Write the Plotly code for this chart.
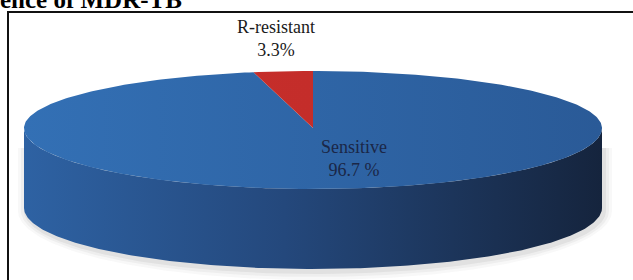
import numpy as np
import plotly.graph_objects as go

# ---- data ----
labels = ["Sensitive", "R-resistant"]
values = [96.7, 3.3]
value_text = ["96.7 %", "3.3%"]
title_text = "ence of MDR-TB"

# ---- style ----
top_scales = [
    [[0, "#3370b5"], [1, "#2a5a97"]],
    [[0, "#c8302c"], [1, "#c02a28"]],
]
side_scale = [[0, "#2e62a3"], [0.45, "#24487c"], [1, "#15243d"]]
label_pos = [(354, 158), (276, 38)]
label_colors = ["#1b2747", "#1a1a1a"]
FONT = "Liberation Serif"

cx, cy, rx, ry_top, ry_bot, depth = 313, 128, 289, 57, 61, 80


def ell(phi, dy=0.0, grow=0.0):
    c = np.cos(phi)
    s = np.sin(phi)
    ry = np.where(c >= 0, ry_top, ry_bot) + grow
    return cx + (rx + grow) * s, cy - ry * c + dy


fig = go.Figure()

# soft shadow under the disc
front = np.linspace(np.pi / 2, 3 * np.pi / 2, 240)
for k, a in [(8, 0.035), (5, 0.05), (2, 0.07)]:
    x, y = ell(front, dy=depth + 3, grow=k)
    x = np.concatenate([x + 2, [cx - rx - k + 2, cx + rx + k + 2]])
    y = np.concatenate([y, [cy + 20, cy + 20]])
    fig.add_trace(go.Scatter(x=x, y=y, fill="toself", mode="lines",
                             line=dict(width=0, color="rgba(0,0,0,0)"),
                             fillcolor=f"rgba(60,60,60,{a})", hoverinfo="skip"))

# side wall (front half)
xt, yt = ell(front)
xb, yb = ell(front[::-1], dy=depth)
fig.add_trace(go.Scatter(
    x=np.concatenate([xt, xb]), y=np.concatenate([yt, yb]),
    fill="toself", mode="lines", line=dict(width=0, color="rgba(0,0,0,0)"),
    fillgradient=dict(type="horizontal", start=cx - rx, stop=cx + rx,
                      colorscale=side_scale),
    hoverinfo="skip"))

# top face slices computed from the values
total = float(sum(values))
start = 0.0
for i, v in enumerate(values):
    a0 = 2 * np.pi * start / total
    a1 = 2 * np.pi * (start + v) / total
    phi = np.linspace(a0, a1, max(8, int(400 * v / total)))
    x, y = ell(phi)
    x = np.concatenate([[cx], x, [cx]])
    y = np.concatenate([[cy], y, [cy]])
    fig.add_trace(go.Scatter(
        x=x, y=y, fill="toself", mode="lines",
        line=dict(width=0, color="rgba(0,0,0,0)"),
        fillgradient=dict(type="horizontal", start=cx - rx, stop=cx + rx,
                          colorscale=top_scales[i]),
        hoverinfo="skip"))
    start += v

# data labels
for i in range(len(labels)):
    fig.add_annotation(x=label_pos[i][0], y=label_pos[i][1],
                       text=f"{labels[i]}<br>{value_text[i]}",
                       showarrow=False, xanchor="center", yanchor="middle",
                       font=dict(family=FONT, size=18, color=label_colors[i]))

# cut-off title (as in the reference)
fig.add_annotation(xref="paper", yref="paper", x=0, y=1, xanchor="left",
                   yanchor="bottom", yshift=-15, xshift=-2, text=f"<b>{title_text}</b>",
                   showarrow=False, font=dict(family=FONT, size=25, color="#000"))

# frame
fig.add_shape(type="path", path="M 8 290 L 8 12 L 650 12",
              line=dict(color="#111", width=2), layer="above")

fig.update_layout(
    width=633, height=280, margin=dict(l=0, r=0, t=0, b=0),
    paper_bgcolor="white", plot_bgcolor="white", showlegend=False,
    xaxis=dict(range=[0, 633], visible=False, fixedrange=True),
    yaxis=dict(range=[280, 0], visible=False, fixedrange=True),
)

fig.write_html("out.html", config={"displayModeBar": False},
               post_script="document.body.style.margin='0';document.body.style.overflow='hidden';")
